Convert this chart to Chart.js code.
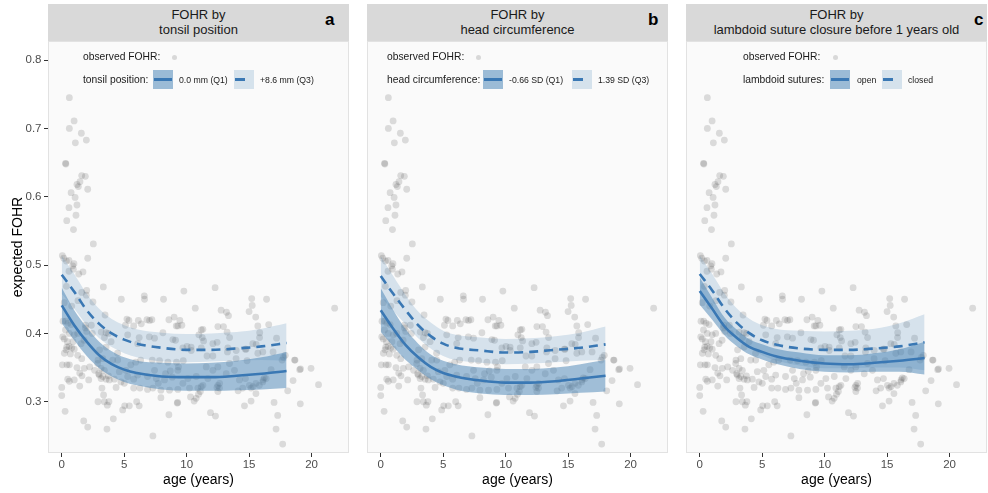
<!DOCTYPE html>
<html><head><meta charset="utf-8">
<script src="https://cdn.jsdelivr.net/npm/chart.js@4.4.1/dist/chart.umd.min.js"></script>
<style>
html,body{margin:0;padding:0;background:#fff;}
body{width:988px;height:493px;position:relative;overflow:hidden;font-family:"Liberation Sans",Arial,sans-serif;color:#1a1a1a;}
.strip{position:absolute;top:4px;height:37px;background:#d9d9d9;display:flex;flex-direction:column;justify-content:center;align-items:center;font-size:13px;line-height:14.5px;color:#1a1a1a;text-align:center;white-space:nowrap;}
.tag{position:absolute;top:10px;font-size:17px;font-weight:bold;color:#000;line-height:20px;}
canvas{position:absolute;top:41px;}
.lt{position:absolute;font-size:10.3px;line-height:12px;white-space:nowrap;color:#1a1a1a;}
.li{position:absolute;font-size:8.7px;line-height:12px;white-space:nowrap;color:#1a1a1a;}
.sw{position:absolute;top:70px;width:20px;height:19px;}
.sw1{background:#9bbbd6;}
.sw3{background:#d5e2ec;}
.seg{position:absolute;left:1px;top:8.3px;height:2.6px;background:#3a78b4;}
.dot{position:absolute;top:54.5px;width:5px;height:5px;border-radius:50%;background:#d8d8d8;}
</style>
</head><body>

<div class="strip" style="left:48px;width:301px"><div>FOHR by</div><div>tonsil position</div></div>
<div class="tag" style="left:325px">a</div>
<div class="strip" style="left:367px;width:301px"><div>FOHR by</div><div>head circumference</div></div>
<div class="tag" style="left:648px">b</div>
<div class="strip" style="left:686px;width:301px"><div>FOHR by</div><div>lambdoid suture closure before 1 years old</div></div>
<div class="tag" style="left:974px">c</div>

<canvas id="cA" width="352" height="452" style="left:0px"></canvas>
<canvas id="cB" width="301" height="452" style="left:367px"></canvas>
<canvas id="cC" width="301" height="452" style="left:686px"></canvas>

<!-- legends -->
<div class="lt" style="left:83px;top:51px">observed FOHR:</div><div class="dot" style="left:172px"></div>
<div class="lt" style="left:83px;top:74px">tonsil position:</div>
<div class="sw sw1" style="left:153px"><div class="seg" style="width:18px"></div></div>
<div class="li" style="left:179px;top:74px">0.0 mm (Q1)</div>
<div class="sw sw3" style="left:234px"><div class="seg" style="width:10px"></div></div>
<div class="li" style="left:260px;top:74px">+8.6 mm (Q3)</div>

<div class="lt" style="left:387px;top:51px">observed FOHR:</div><div class="dot" style="left:476px"></div>
<div class="lt" style="left:387px;top:74px">head circumference:</div>
<div class="sw sw1" style="left:483px"><div class="seg" style="width:18px"></div></div>
<div class="li" style="left:509px;top:74px">-0.66 SD (Q1)</div>
<div class="sw sw3" style="left:572px"><div class="seg" style="width:10px"></div></div>
<div class="li" style="left:598px;top:74px">1.39 SD (Q3)</div>

<div class="lt" style="left:743px;top:51px">observed FOHR:</div><div class="dot" style="left:833px"></div>
<div class="lt" style="left:743px;top:74px">lambdoid sutures:</div>
<div class="sw sw1" style="left:830px"><div class="seg" style="width:18px"></div></div>
<div class="li" style="left:857px;top:74px">open</div>
<div class="sw sw3" style="left:882px"><div class="seg" style="width:10px"></div></div>
<div class="li" style="left:908px;top:74px">closed</div>

<script>
// ---------- data ----------
const xTicks = [0, 5, 10, 15, 20];
const yTicks = [0.3, 0.4, 0.5, 0.6, 0.7, 0.8];
const fitAges = [0, 1, 2, 3, 4, 5, 6, 8, 10, 12, 14, 16, 18];

// observed FOHR: [age, FOHR]
const observed = [
[0.61,0.745],[0.99,0.711],[0.61,0.700],[1.57,0.693],[1.97,0.683],[1.09,0.679],[0.30,0.649],[0.33,0.648],
[1.60,0.631],[1.89,0.630],[1.46,0.622],[1.22,0.618],[1.33,0.615],[2.08,0.611],[0.75,0.606],[1.07,0.599],
[0.58,0.584],[1.22,0.588],[1.14,0.573],[0.40,0.565],[0.94,0.552],[2.53,0.531],[0.16,0.510],[0.37,0.506],
[0.58,0.507],[0.98,0.502],[2.08,0.510],[0.88,0.499],[0.58,0.491],[0.93,0.494],[1.36,0.487],[1.70,0.490],[0.05,0.514],
[3.33,0.468],[0.37,0.469],[1.60,0.460],[2.00,0.463],[1.97,0.456],[2.50,0.446],[4.77,0.450],[6.61,0.455],
[6.63,0.450],[8.15,0.450],[9.78,0.462],[12.28,0.467],[10.69,0.437],[12.76,0.434],[13.19,0.431],[13.35,0.426],
[15.21,0.451],[15.25,0.441],[15.00,0.432],[15.53,0.424],[16.40,0.450],[21.85,0.437],[0.20,0.445],[0.80,0.440],[1.30,0.448],
[3.47,0.427],[5.22,0.421],[5.38,0.419],[6.82,0.420],[7.22,0.420],[7.03,0.419],[8.58,0.420],[9.00,0.424],
[9.46,0.419],[9.62,0.412],[9.30,0.411],[9.17,0.411],[5.10,0.412],[5.76,0.411],[6.13,0.419],[6.37,0.414],
[1.90,0.412],[1.90,0.408],[2.00,0.403],[3.55,0.401],[8.10,0.401],[11.30,0.406],[11.17,0.405],[12.50,0.410],
[12.95,0.410],[13.24,0.402],[15.70,0.411],[16.57,0.413],[15.85,0.401],[0.10,0.418],[0.32,0.418],[0.50,0.415],
[0.75,0.413],[0.30,0.405],[0.60,0.400],[2.37,0.412],[2.45,0.400],[3.16,0.402],[3.74,0.400],
[6.20,0.394],[7.43,0.393],[9.11,0.390],[10.98,0.398],[11.25,0.394],[12.44,0.387],[13.27,0.373],[14.70,0.377],
[17.20,0.393],[15.30,0.385],[14.76,0.377],[15.70,0.371],[16.92,0.373],[12.10,0.367],[1.00,0.398],[0.20,0.392],
[0.45,0.388],[0.90,0.388],[1.79,0.390],[3.42,0.394],[3.95,0.388],[1.28,0.400],[1.55,0.385],[0.08,0.395],
[5.28,0.398],[6.08,0.385],[7.01,0.395],[9.70,0.379],[10.36,0.380],[11.17,0.379],[10.03,0.381],[10.37,0.375],
[11.36,0.389],[12.10,0.385],[13.30,0.379],[13.44,0.394],[13.97,0.375],[15.84,0.394],[15.57,0.384],[16.10,0.373],
[8.90,0.391],[3.03,0.376],[3.55,0.380],[0.59,0.381],[0.40,0.380],[0.35,0.376],[0.21,0.371],[0.80,0.379],
[1.00,0.377],[0.69,0.370],[1.28,0.368],[4.47,0.371],
[17.75,0.365],[17.90,0.368],[17.64,0.361],[18.68,0.361],[14.84,0.360],[18.64,0.361],[16.76,0.347],[19.05,0.347],
[19.96,0.349],[19.12,0.348],[1.60,0.363],[2.90,0.361],[3.29,0.363],[4.08,0.361],[4.48,0.361],[2.24,0.351],
[2.63,0.346],[2.95,0.341],[2.88,0.356],[3.15,0.349],[3.41,0.346],[4.61,0.344],[5.13,0.346],[5.53,0.354],
[5.92,0.358],[6.32,0.361],[7.25,0.361],[7.83,0.360],[8.50,0.358],[9.19,0.358],[9.73,0.360],[9.35,0.351],
[9.30,0.346],[8.69,0.345],[8.31,0.341],[7.43,0.346],[11.57,0.351],[12.10,0.346],[12.50,0.351],[13.17,0.341],
[13.83,0.346],[13.43,0.356],[13.96,0.363],[0.05,0.354],[0.42,0.354],[0.61,0.354],[1.22,0.350],[1.44,0.342],
[1.62,0.338],[1.81,0.349],[11.63,0.367],
[0.48,0.333],[0.61,0.330],[1.00,0.332],[2.16,0.332],[3.01,0.339],[3.15,0.334],[3.55,0.333],[3.81,0.332],
[4.21,0.333],[5.28,0.337],[3.29,0.337],[3.74,0.338],[4.74,0.329],[5.01,0.327],[5.76,0.333],[6.08,0.339],
[6.87,0.337],[7.57,0.334],[8.23,0.332],[8.85,0.336],[9.70,0.327],[10.10,0.334],[10.77,0.337],[11.70,0.334],
[14.23,0.332],[14.71,0.334],[16.22,0.335],[16.12,0.332],[15.82,0.324],[15.55,0.327],[15.03,0.324],[15.16,0.320],
[18.52,0.331],[20.56,0.325],[12.64,0.327],[12.50,0.324],[12.43,0.321],[11.30,0.324],[11.17,0.322],[16.37,0.334],
[16.10,0.329],[15.31,0.322],[1.44,0.323],[0.00,0.321],[3.22,0.320],[4.35,0.321],[5.76,0.320],[6.26,0.320],
[6.87,0.318],[7.94,0.317],[7.30,0.320],[7.73,0.327],[10.90,0.320],[10.23,0.320],[9.30,0.318],[8.63,0.317],
[12.63,0.320],[14.49,0.320],[14.12,0.316],
[0.00,0.309],[3.35,0.310],[7.94,0.306],[9.28,0.299],[9.25,0.298],[10.31,0.307],[10.60,0.301],[10.76,0.305],
[10.95,0.311],[11.10,0.315],[12.50,0.315],[18.09,0.316],[15.55,0.312],[15.16,0.301],[14.63,0.294],[17.00,0.299],
[19.10,0.297],[2.90,0.300],[3.41,0.300],[3.78,0.300],[3.65,0.295],[4.88,0.288],[5.04,0.294],[5.41,0.294],
[6.00,0.300],[6.20,0.294],[0.27,0.286],[1.76,0.272],[2.08,0.263],[4.13,0.275],[3.62,0.260],[7.30,0.250],
[8.58,0.281],[11.91,0.284],[12.31,0.279],[17.29,0.280],[17.16,0.260],[17.69,0.238]
];

// panel a: tonsil position
const tonsilQ1Fit = [0.441,0.412,0.388,0.368,0.355,0.347,0.342,0.337,0.336,0.336,0.338,0.341,0.345];
const tonsilQ1Lo  = [0.415,0.390,0.367,0.349,0.337,0.329,0.324,0.318,0.316,0.316,0.317,0.318,0.320];
const tonsilQ1Hi  = [0.467,0.434,0.409,0.388,0.374,0.365,0.360,0.357,0.356,0.357,0.360,0.365,0.373];
const tonsilQ3Fit = [0.486,0.461,0.434,0.414,0.400,0.391,0.385,0.379,0.376,0.376,0.378,0.381,0.386];
const tonsilQ3Lo  = [0.458,0.436,0.412,0.393,0.380,0.371,0.365,0.359,0.358,0.359,0.360,0.361,0.360];
const tonsilQ3Hi  = [0.514,0.487,0.458,0.436,0.421,0.412,0.406,0.401,0.399,0.400,0.402,0.407,0.415];

// panel b: head circumference
const headQ1Fit = [0.434,0.407,0.383,0.365,0.351,0.342,0.337,0.331,0.328,0.328,0.330,0.334,0.338];
const headQ1Lo  = [0.402,0.381,0.361,0.346,0.333,0.324,0.318,0.312,0.310,0.310,0.311,0.313,0.315];
const headQ1Hi  = [0.466,0.434,0.406,0.385,0.369,0.360,0.355,0.350,0.348,0.348,0.350,0.355,0.361];
const headQ3Fit = [0.484,0.458,0.434,0.412,0.396,0.385,0.379,0.375,0.372,0.373,0.376,0.379,0.384];
const headQ3Lo  = [0.454,0.433,0.413,0.393,0.378,0.367,0.361,0.357,0.355,0.356,0.358,0.360,0.361];
const headQ3Hi  = [0.513,0.484,0.456,0.432,0.416,0.404,0.398,0.394,0.392,0.393,0.396,0.401,0.410];

// panel c: lambdoid sutures (open / closed)
const lambdOpenFit   = [0.462,0.436,0.410,0.393,0.380,0.373,0.367,0.360,0.356,0.355,0.357,0.360,0.364];
const lambdOpenLo    = [0.442,0.420,0.397,0.381,0.369,0.362,0.356,0.348,0.344,0.343,0.344,0.344,0.340];
const lambdOpenHi    = [0.482,0.452,0.423,0.405,0.391,0.384,0.378,0.372,0.368,0.368,0.371,0.377,0.388];
const lambdClosedFit = [0.487,0.463,0.436,0.415,0.400,0.390,0.384,0.378,0.376,0.376,0.378,0.381,0.387];
const lambdClosedLo  = [0.461,0.440,0.414,0.394,0.379,0.368,0.361,0.353,0.349,0.349,0.350,0.350,0.346];
const lambdClosedHi  = [0.514,0.487,0.458,0.436,0.421,0.412,0.407,0.404,0.403,0.404,0.407,0.415,0.428];

// ---------- styles ----------
const LINE = '#3a78b4';
const DARK = 'rgba(70,130,180,0.5)';
const LIGHT = 'rgba(70,130,180,0.2)';
const NONE = 'rgba(0,0,0,0)';
const FONT = '"Liberation Sans", Arial, sans-serif';

function pts(xs, ys) { return xs.map((x, i) => ({x: x, y: ys[i]})); }

const panelBg = {
  id: 'panelBg',
  beforeDraw(chart) {
    const {ctx, chartArea: a} = chart;
    ctx.save();
    ctx.fillStyle = '#fafafa';
    ctx.fillRect(a.left, a.top, a.right - a.left, a.bottom - a.top);
    ctx.restore();
  },
  afterDatasetsDraw(chart) {
    const {ctx, chartArea: a} = chart;
    ctx.save();
    ctx.strokeStyle = '#e2e2e2';
    ctx.lineWidth = 1;
    ctx.strokeRect(a.left + 0.5, a.top + 0.5, a.right - a.left - 1, a.bottom - a.top - 1);
    ctx.restore();
  }
};

function band(ys, color, fill) {
  return {data: pts(fitAges, ys), showLine: true, borderColor: NONE, borderWidth: 0,
          pointRadius: 0, backgroundColor: color, fill: fill, cubicInterpolationMode: 'monotone'};
}

function makePanel(id, fit1, lo1, hi1, fit3, lo3, hi3, showY) {
  const datasets = [
    {data: pts(fitAges, fit3), showLine: true, borderColor: LINE, borderWidth: 2.6, borderDash: [9, 6],
     pointRadius: 0, fill: false, cubicInterpolationMode: 'monotone'},
    {data: pts(fitAges, fit1), showLine: true, borderColor: LINE, borderWidth: 2.6,
     pointRadius: 0, fill: false, cubicInterpolationMode: 'monotone'},
    band(hi1, DARK, '+1'),
    band(lo1, NONE, false),
    band(hi3, LIGHT, '+1'),
    band(lo3, NONE, false),
    {data: observed.map(p => ({x: p[0], y: p[1]})), showLine: false, pointRadius: 3.4, pointHoverRadius: 0,
     pointBackgroundColor: 'rgba(70,70,70,0.18)', pointBorderColor: NONE, pointBorderWidth: 0, fill: false}
  ];
  return new Chart(document.getElementById(id), {
    type: 'line',
    data: {datasets: datasets},
    plugins: [panelBg],
    options: {
      responsive: false, animation: false, events: [],
      layout: {autoPadding: false, padding: {left: 0, right: showY ? 3 : 0, top: 0, bottom: 0}},
      plugins: {legend: {display: false}, tooltip: {enabled: false}},
      scales: {
        x: {
          type: 'linear', min: -1.1, max: 23.0,
          afterBuildTicks: s => { s.ticks = xTicks.map(v => ({value: v})); },
          afterFit: s => { s.height = 40; s.paddingLeft = 0; s.paddingRight = 0; },
          ticks: {color: '#4d4d4d', font: {family: FONT, size: 11.5}, padding: 1, maxRotation: 0,
                  callback: v => String(v)},
          grid: {drawOnChartArea: false, drawTicks: true, tickLength: 4, color: '#333', tickColor: '#333'},
          border: {display: false},
          title: {display: true, text: 'age (years)', color: '#000', font: {family: FONT, size: 14},
                  padding: {top: 0, bottom: 4.5}}
        },
        y: {
          type: 'linear', min: 0.225, max: 0.828, display: showY,
          afterBuildTicks: s => { s.ticks = yTicks.map(v => ({value: v})); },
          afterFit: s => { s.width = showY ? 48 : 0; s.paddingTop = 0; s.paddingBottom = 0; },
          ticks: {color: '#4d4d4d', font: {family: FONT, size: 11.5}, padding: 2.5,
                  callback: v => v.toFixed(1)},
          grid: {drawOnChartArea: false, drawTicks: true, tickLength: 4, color: '#333', tickColor: '#333'},
          border: {display: false},
          title: {display: true, text: 'expected FOHR', color: '#000', font: {family: FONT, size: 14},
                  padding: {top: 10, bottom: 0}}
        }
      }
    }
  });
}

makePanel('cA', tonsilQ1Fit, tonsilQ1Lo, tonsilQ1Hi, tonsilQ3Fit, tonsilQ3Lo, tonsilQ3Hi, true);
makePanel('cB', headQ1Fit, headQ1Lo, headQ1Hi, headQ3Fit, headQ3Lo, headQ3Hi, false);
makePanel('cC', lambdOpenFit, lambdOpenLo, lambdOpenHi, lambdClosedFit, lambdClosedLo, lambdClosedHi, false);
</script>
</body></html>
